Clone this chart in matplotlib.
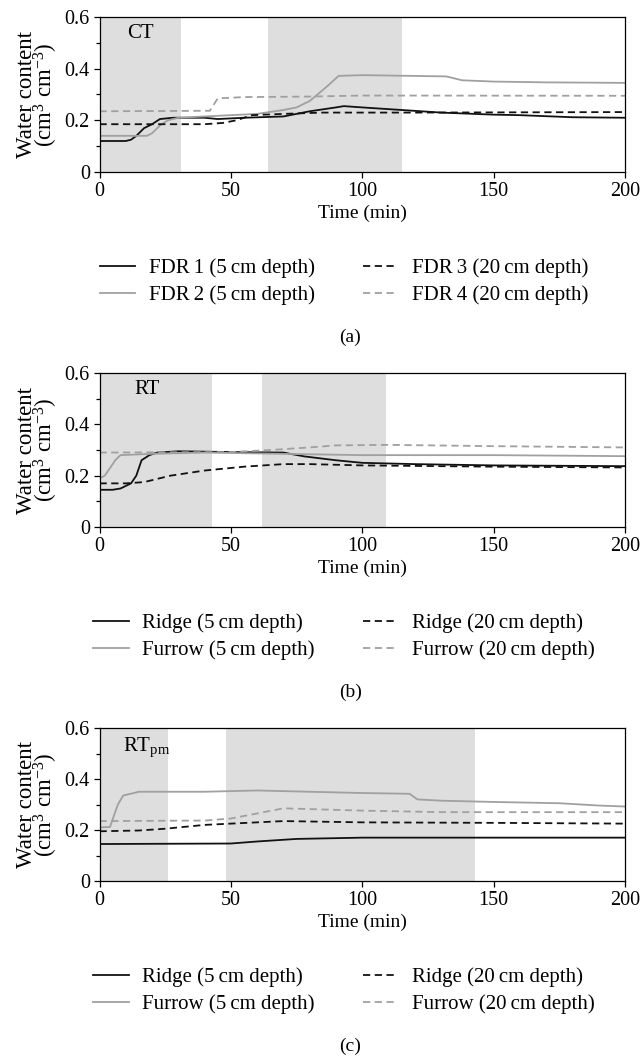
import matplotlib
matplotlib.use("Agg")
import matplotlib.pyplot as plt
from matplotlib.ticker import MultipleLocator

plt.rcParams['font.family'] = ['Liberation Serif', 'DejaVu Serif']
plt.rcParams['mathtext.fontset'] = 'custom'
plt.rcParams['mathtext.rm'] = 'Liberation Serif'
plt.rcParams['mathtext.it'] = 'Liberation Serif:italic'

BLACK = '#111111'
GRAY = '#a0a0a0'
SHADE = '#dedede'

# ---- panel (a): CT ----
ct_shade = [(0, 31), (64, 115)]
ct_fdr1_t = [0, 10, 12, 14, 17, 20, 23, 28, 40, 45, 55, 70, 80, 90, 93, 100, 115, 130, 150, 160, 180, 200]
ct_fdr1 = [0.12, 0.12, 0.125, 0.14, 0.17, 0.185, 0.205, 0.21, 0.21, 0.205, 0.21, 0.215, 0.235, 0.25, 0.255, 0.25, 0.24, 0.23, 0.222, 0.22, 0.212, 0.21]
ct_fdr2_t = [0, 18, 20, 23, 26, 30, 40, 50, 60, 70, 75, 80, 83, 87, 91, 100, 132, 138, 150, 170, 200]
ct_fdr2 = [0.14, 0.14, 0.15, 0.18, 0.2, 0.21, 0.215, 0.22, 0.225, 0.24, 0.25, 0.275, 0.3, 0.335, 0.372, 0.375, 0.37, 0.355, 0.35, 0.347, 0.345]
ct_fdr3_t = [0, 40, 47, 52, 58, 70, 85, 120, 200]
ct_fdr3 = [0.185, 0.185, 0.19, 0.2, 0.22, 0.225, 0.23, 0.23, 0.232]
ct_fdr4_t = [0, 42, 45, 55, 80, 100, 200]
ct_fdr4 = [0.235, 0.237, 0.285, 0.29, 0.292, 0.296, 0.295]

# ---- panel (b): RT ----
rt_shade = [(0, 43), (62, 109)]
rt_r5_t = [0, 5, 8, 12, 14, 16, 19, 22, 30, 50, 70, 78, 90, 100, 120, 150, 200]
rt_r5 = [0.145, 0.145, 0.15, 0.17, 0.2, 0.26, 0.28, 0.29, 0.295, 0.292, 0.29, 0.275, 0.26, 0.25, 0.245, 0.24, 0.237]
rt_f5_t = [0, 2, 6, 8, 20, 40, 70, 100, 150, 200]
rt_f5 = [0.19, 0.2, 0.26, 0.28, 0.285, 0.29, 0.285, 0.28, 0.28, 0.276]
rt_r20_t = [0, 10, 17, 27, 40, 55, 70, 80, 100, 150, 200]
rt_r20 = [0.17, 0.17, 0.175, 0.2, 0.22, 0.235, 0.245, 0.245, 0.24, 0.235, 0.232]
rt_f20_t = [0, 50, 65, 80, 90, 110, 150, 200]
rt_f20 = [0.29, 0.292, 0.3, 0.31, 0.318, 0.32, 0.315, 0.31]

# ---- panel (c): RTpm ----
rtpm_shade = [(0, 26), (48, 143)]
rtpm_r5_t = [0, 50, 60, 75, 100, 200]
rtpm_r5 = [0.145, 0.147, 0.155, 0.165, 0.17, 0.17]
rtpm_f5_t = [0, 4, 7, 9, 15, 40, 60, 80, 100, 118, 121, 130, 150, 175, 190, 200]
rtpm_f5 = [0.21, 0.212, 0.3, 0.335, 0.35, 0.35, 0.355, 0.35, 0.345, 0.342, 0.32, 0.315, 0.31, 0.305, 0.296, 0.292]
rtpm_r20_t = [0, 15, 25, 40, 60, 70, 100, 150, 200]
rtpm_r20 = [0.195, 0.198, 0.205, 0.22, 0.23, 0.235, 0.23, 0.228, 0.225]
rtpm_f20_t = [0, 40, 50, 60, 70, 80, 100, 130, 200]
rtpm_f20 = [0.235, 0.237, 0.245, 0.265, 0.285, 0.282, 0.276, 0.27, 0.27]

ct_labels = ['FDR\u20091 (5\u2009cm depth)', 'FDR\u20092 (5\u2009cm depth)',
             'FDR\u20093 (20\u2009cm depth)', 'FDR\u20094 (20\u2009cm depth)']
rt_labels = ['Ridge (5\u2009cm depth)', 'Furrow (5\u2009cm depth)',
             'Ridge (20\u2009cm depth)', 'Furrow (20\u2009cm depth)']

panels = [
    dict(name='CT', nx=0.052, ny=0.895, shade=ct_shade, top=17, bottom=172, letter='(a)',
         lines=[(ct_fdr1_t, ct_fdr1), (ct_fdr2_t, ct_fdr2), (ct_fdr3_t, ct_fdr3), (ct_fdr4_t, ct_fdr4)],
         labels=ct_labels),
    dict(name='RT', nx=0.067, ny=0.89, shade=rt_shade, top=373, bottom=527, letter='(b)',
         lines=[(rt_r5_t, rt_r5), (rt_f5_t, rt_f5), (rt_r20_t, rt_r20), (rt_f20_t, rt_f20)],
         labels=rt_labels),
    dict(name='RT$_\\mathrm{pm}$', nx=0.045, ny=0.875, shade=rtpm_shade, top=728, bottom=881, letter='(c)',
         lines=[(rtpm_r5_t, rtpm_r5), (rtpm_f5_t, rtpm_f5), (rtpm_r20_t, rtpm_r20), (rtpm_f20_t, rtpm_f20)],
         labels=rt_labels),
]

styles = [(BLACK, '-'), (GRAY, '-'), (BLACK, (0, (4, 2.5))), (GRAY, (0, (4, 2.5)))]

W, H = 643, 1056
fig = plt.figure(figsize=(W / 100, H / 100), dpi=100)

left, right = 99.5 / W, 625 / W
for p in panels:
    ax = fig.add_axes([left, 1 - p['bottom'] / H, right - left, (p['bottom'] - p['top']) / H])
    for a, b in p['shade']:
        ax.axvspan(a, b, color=SHADE, lw=0, zorder=0)
    handles = []
    for (t, v), (c, ls) in zip(p['lines'], styles):
        h, = ax.plot(t, v, color=c, linestyle=ls, lw=1.3, zorder=2)
        handles.append(h)
    ax.set_xlim(0, 200)
    ax.set_ylim(0, 0.6)
    ax.set_xticks([0, 50, 100, 150, 200])
    ax.set_yticks([0, 0.2, 0.4, 0.6])
    ax.set_yticklabels(['0', '0.2', '0.4', '0.6'])
    ax.yaxis.set_minor_locator(MultipleLocator(0.1))
    ax.tick_params(direction='out', length=4, width=0.9, labelsize=14.5, pad=3)
    ax.tick_params(which='minor', direction='out', length=3, width=0.9)
    for s in ax.spines.values():
        s.set_linewidth(0.9)
    ax.set_xlabel('Time (min)', fontsize=14, labelpad=3)
    ax.set_ylabel('Water content\n(cm$^3$ cm$^{-3}$)', fontsize=16.5, linespacing=0.75, labelpad=3)
    ax.text(p['nx'], p['ny'], p['name'], transform=ax.transAxes, fontsize=15, va='center')
    fig.legend(handles, p['labels'], ncol=2, frameon=False, fontsize=15,
               loc='center', bbox_to_anchor=(0.535, 1 - (p['bottom'] + 110) / H),
               handlelength=1.7, handletextpad=0.65, columnspacing=2.3, labelspacing=0.35,
               borderpad=0.2)
    fig.text(0.545, 1 - (p['bottom'] + 165) / H, p['letter'], ha='center', va='center', fontsize=14)

fig.savefig('out.png', dpi=100)
